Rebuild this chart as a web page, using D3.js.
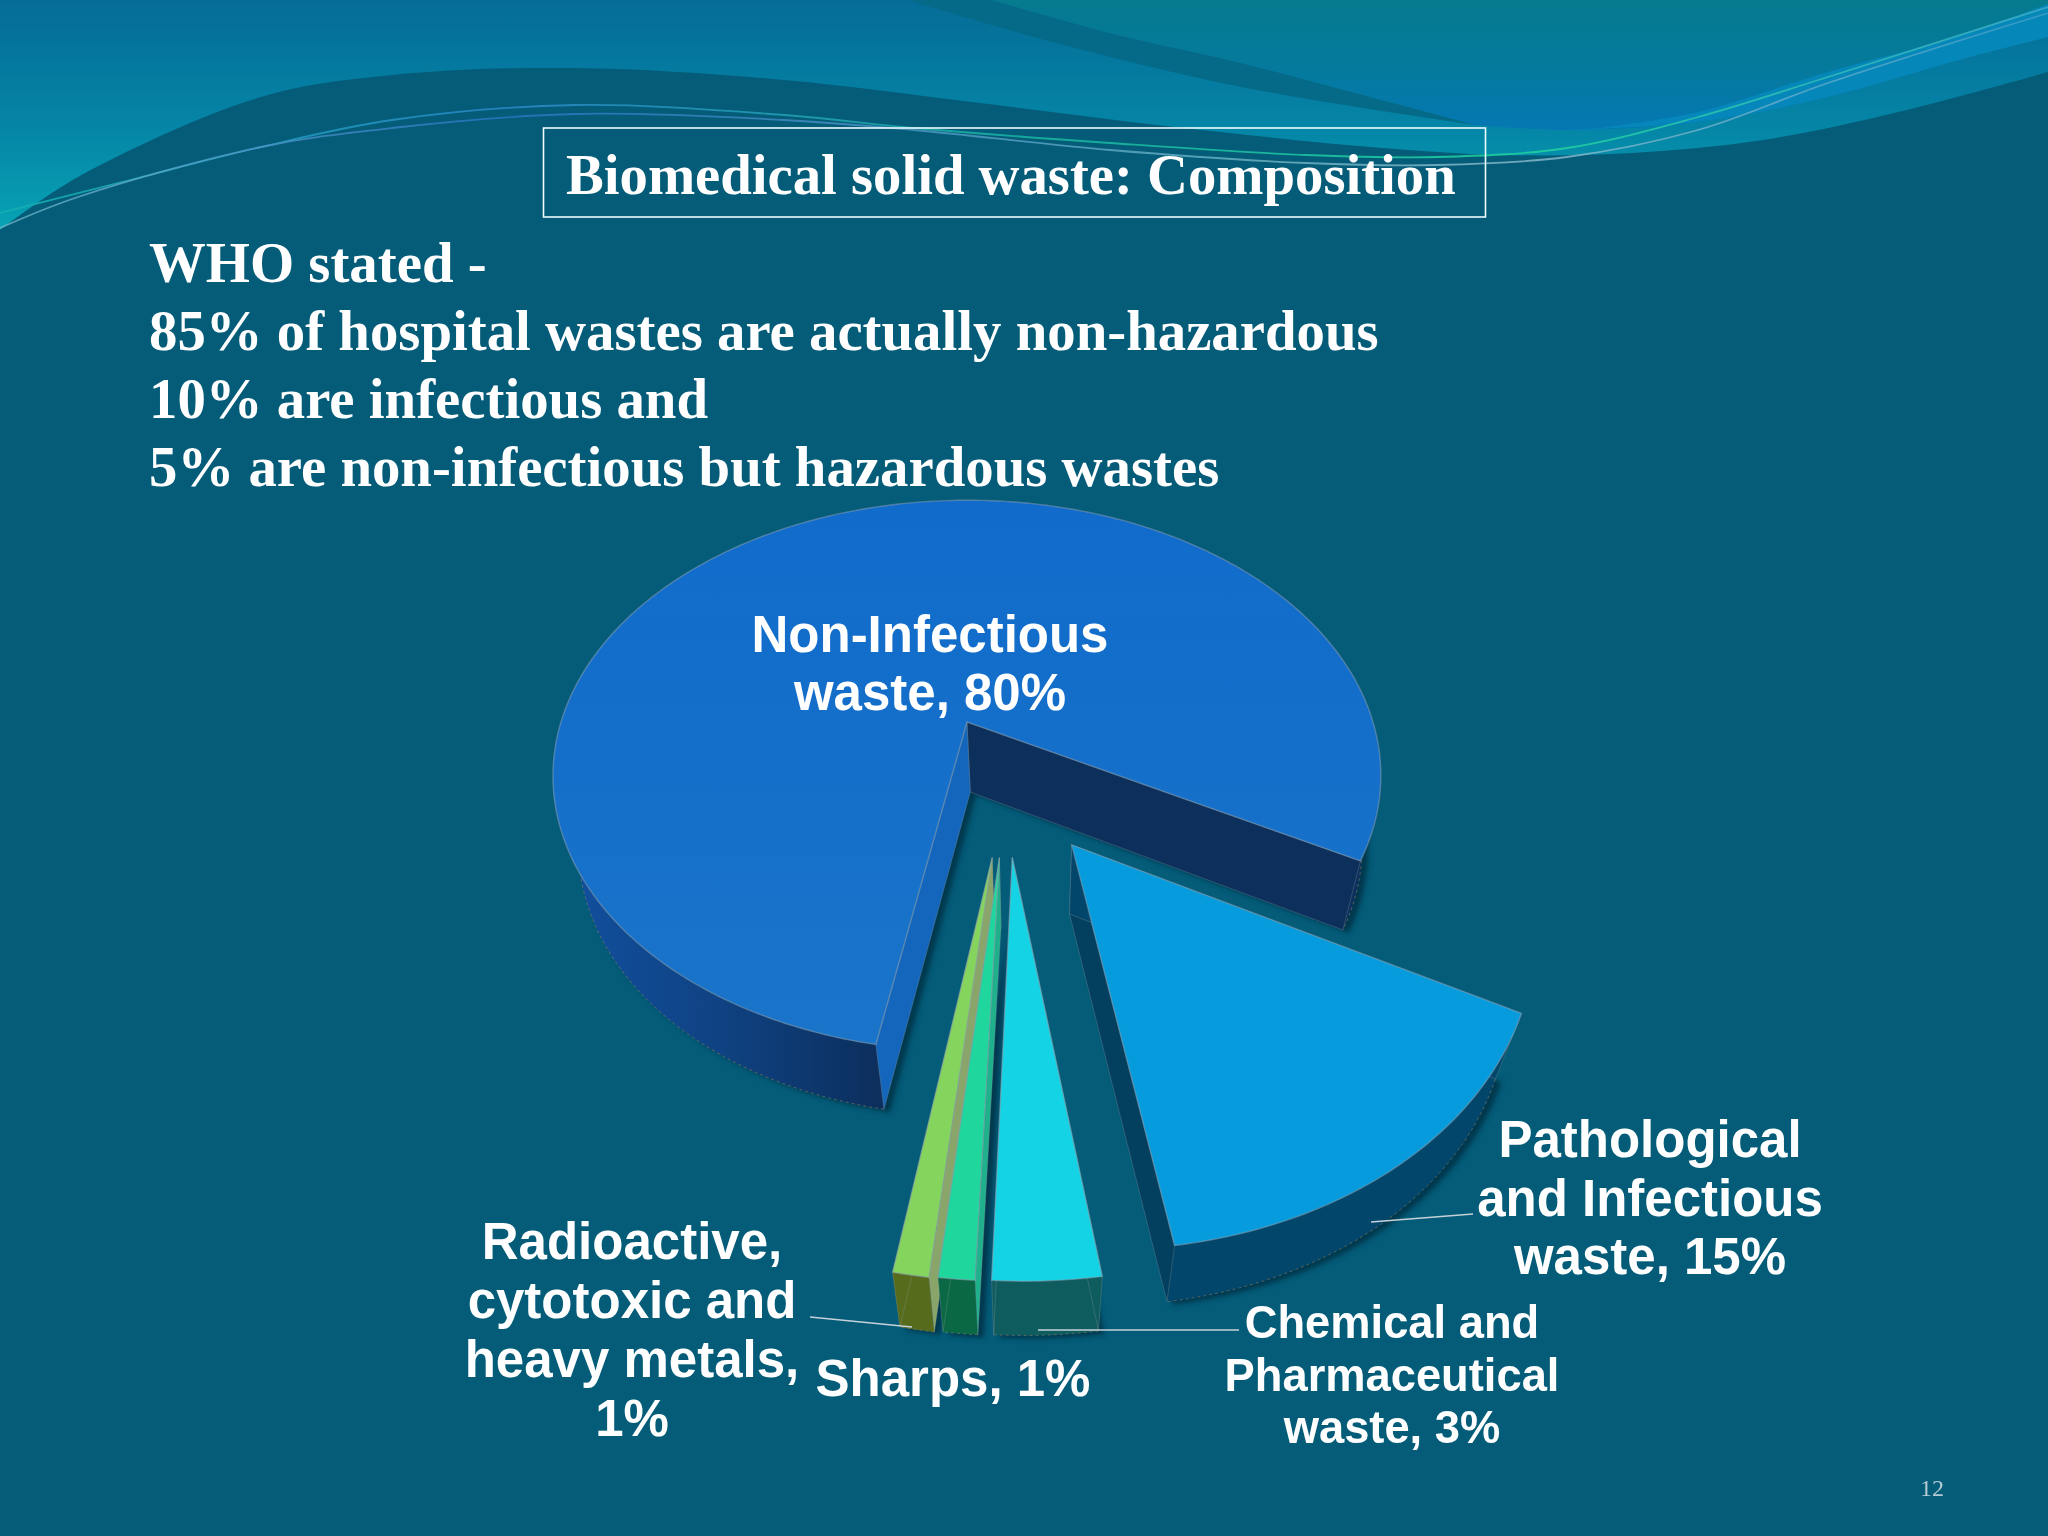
<!DOCTYPE html>
<meta charset="utf-8">
<style>
  body { margin: 0; background: #045c79; }
  svg { display: block; }
</style>
<script src="https://d3js.org/d3.v7.min.js"></script>
<svg id="chart" width="2048" height="1536"></svg>

<script>

// chart values
const categories = ["Non-Infectious waste", "Pathological and Infectious waste",
  "Chemical and Pharmaceutical waste", "Sharps", "Radioactive, cytotoxic and heavy metals"];
const values = [80, 15, 3, 1, 1];
const labelLines = [
  ["Non-Infectious", "waste, 80%"],
  ["Pathological", "and Infectious", "waste, 15%"],
  ["Chemical and", "Pharmaceutical", "waste, 3%"],
  ["Sharps, 1%"],
  ["Radioactive,", "cytotoxic and", "heavy metals,", "1%"]
];
const headline = "Biomedical solid waste: Composition";
const bodyLines = [
  "WHO stated -",
  "85% of hospital wastes are actually non-hazardous",
  "10% are infectious and",
  "5% are non-infectious but hazardous wastes"
];

const svg = d3.select("#chart");
const defs = svg.append("defs");

function gradient(id, x2, y2, stops) {
  const g = defs.append("linearGradient").attr("id", id)
    .attr("x1", 0).attr("y1", 0).attr("x2", x2).attr("y2", y2);
  stops.forEach(s => g.append("stop").attr("offset", s[0]).attr("stop-color", s[1]));
  return g;
}
gradient("bandFill", 0, 1, [[0, "#056c98"], [0.55, "#0585a6"], [1, "#07a3b4"]]);
gradient("swooshFill", 0, 1, [[0, "#067a8e"], [0.55, "#057a9e"], [1, "#0578b4"]]);
gradient("mainTop", 0, 1, [[0, "#106bcb"], [1, "#1a74c9"]]);
gradient("mainWall", 1, 0, [[0, "#114f9e"], [0.5, "#0f4282"], [1, "#0c2f5e"]])
  .attr("gradientUnits", "userSpaceOnUse")
  .attr("x1", 570).attr("y1", 0).attr("x2", 875).attr("y2", 0);
defs.append("filter").attr("id", "soft")
  .attr("x", "-20%").attr("y", "-20%").attr("width", "140%").attr("height", "140%")
  .append("feGaussianBlur").attr("stdDeviation", 2.5);

// --- slide background ---------------------------------------------------
const smooth = d3.line().curve(d3.curveCatmullRom.alpha(0.5));
const bg = svg.append("g");
bg.append("rect").attr("width", 2048).attr("height", 1536).attr("fill", "#045c79");

const bandEdge = [[0, 230], [78, 177], [261, 97], [392, 75], [575, 68], [784, 80], [980, 103],
  [1175, 127], [1371, 147], [1502, 155], [1632, 153], [1763, 140], [1894, 113], [2048, 72]];
bg.append("path")
  .attr("d", smooth(bandEdge) + "L2048,0L0,0Z")
  .attr("fill", "url(#bandFill)");

const sweepEdge = [[908, 0], [1045, 40], [1241, 87], [1476, 125]];
const sweepInner = [[992, 0], [1110, 33], [1241, 63], [1371, 97], [1476, 125]];
const swooshLower = [[1476, 125], [1567, 130], [1698, 122], [1828, 97], [1959, 60], [2048, 37]];

// the darker sweep, then the panel to its right
bg.append("path")
  .attr("d", smooth(sweepEdge) + "L" + smooth(sweepInner.slice().reverse()).slice(1) + "Z")
  .attr("fill", "#056a88");
bg.append("path")
  .attr("d", smooth(sweepInner) + "L" + smooth(swooshLower).slice(1) + "L2048,0Z")
  .attr("fill", "url(#swooshFill)");

const stripTop = [[1600, 128], [1698, 112], [1828, 72], [1959, 36], [2048, 4]];
bg.append("path")
  .attr("d", smooth(swooshLower.slice(1)) + "L" + smooth(stripTop.slice().reverse()).slice(1) + "Z")
  .attr("fill", "#0688bc").attr("opacity", 0.9);

const waveA = [[0, 213], [130, 180], [261, 147], [392, 120], [575, 105], [784, 115], [914, 128],
  [1110, 143], [1306, 155], [1437, 157], [1567, 148], [1698, 117], [1828, 77], [2048, 7]];
const waveB = [[0, 228], [78, 197], [261, 147], [392, 128], [575, 114], [784, 120], [914, 130],
  [1110, 150], [1306, 163], [1437, 165], [1567, 157], [1698, 130], [1828, 83], [2048, 13]];
gradient("waveAStroke", 1, 0, [[0, "#12b0b0"], [0.25, "#2a86c4"], [0.5, "#19b0a0"], [0.75, "#1fd0a0"], [1, "#3aa8c8"]]);
gradient("waveBStroke", 1, 0, [[0, "#6db6c8"], [0.25, "#2a74c4"], [0.6, "#6ab4c4"], [0.75, "#8fbccc"], [1, "#3a9cc8"]]);
bg.append("path").attr("d", smooth(waveA)).attr("fill", "none")
  .attr("stroke", "url(#waveAStroke)").attr("stroke-width", 1.8).attr("opacity", 0.9);
bg.append("path").attr("d", smooth(waveB)).attr("fill", "none")
  .attr("stroke", "url(#waveBStroke)").attr("stroke-width", 1.8).attr("opacity", 0.8);

// --- title and body text --------------------------------------------------
svg.append("rect")
  .attr("x", 543.5).attr("y", 128).attr("width", 942).attr("height", 89)
  .attr("fill", "none")
  .attr("stroke", "#eefcff").attr("stroke-width", 1.6);

svg.append("text")
  .attr("x", 566).attr("y", 194)
  .attr("font-family", "Liberation Serif").attr("font-weight", "bold")
  .attr("font-size", 56.7).attr("fill", "#fff")
  .text(headline);

svg.selectAll("text.body").data(bodyLines).enter().append("text")
  .attr("class", "body")
  .attr("x", 149).attr("y", (d, i) => 282 + i * 68)
  .attr("font-family", "Liberation Serif").attr("font-weight", "bold")
  .attr("font-size", 56.8).attr("fill", "#fff")
  .text(d => d);

// --- 3d pie ---------------------------------------------------------------
const deg = Math.PI / 180;
const pie = d3.pie().sort(null).value(d => d)
  .startAngle(190.4 * deg).endAngle(550.4 * deg);
const slices = pie(values);

// perspective of the pie plane, u to the right and v towards the viewer
const apexX = 969, apexY = 722, radiusX = 406, radiusY = 265, tilt = 0.195;
function project(u, v) {
  const w = 1 - tilt * v;
  return [apexX + radiusX * u / w, apexY + radiusY * v / w];
}
// lower rim of the pie: points shift down and pull in towards the vanishing line
function drop(p) {
  const t = (p[1] - apexY) / 528;
  return [1030 + (p[0] - 1030) * 0.947, p[1] + 70 - 14 * t * t];
}

const explode = [[-0.005, 0], [0.232, 0.425], [0.097, 0.465], [0.068, 0.465], [0.052, 0.465]];
const reach = [1, 1.01, 1.03, 1.03, 1.03];
const looks = [
  { top: "url(#mainTop)", outer: "url(#mainWall)", cutStart: "#1466bd", cutEnd: "#0c2f5c" },
  { top: "#069bdc", outer: "#03466b", cutStart: "#03466b", cutEnd: "#034060" },
  { top: "#14d3e4", outer: "#0e5c5e", cutStart: "#0e5c5e", cutEnd: "#0e5c5e" },
  { top: "#1fd69c", outer: "#0a6845", cutStart: "#1fb08c", cutEnd: "#0a6845" },
  { top: "#84d45e", outer: "#566b1c", cutStart: "#8aa56a", cutEnd: "#566b1c" }
];
// far side first so neighbours overlap the way they do on the slide
const drawOrder = [0, 1, 4, 3, 2];

const polygon = d3.line();

function rimPoints(s, i) {
  const n = Math.max(4, Math.round((s.endAngle - s.startAngle) / deg));
  const angle = d3.scaleLinear().domain([0, n]).range([s.startAngle, s.endAngle]);
  return d3.range(n + 1).map(k => {
    const a = angle(k);
    return project(explode[i][0] + reach[i] * Math.sin(a), explode[i][1] - reach[i] * Math.cos(a));
  });
}

const shadowLayer = svg.append("g").attr("filter", "url(#soft)");
const pieLayer = svg.append("g");

drawOrder.forEach(i => {
  const s = slices[i];
  const apex = project(explode[i][0], explode[i][1]);
  const rim = rimPoints(s, i);
  const first = rim[0], last = rim[rim.length - 1];
  const lowRim = rim.map(drop);

  shadowLayer.append("path")
    .attr("d", polygon([drop(apex), ...lowRim]) + "Z")
    .attr("transform", "translate(6,3)")
    .attr("fill", "#01374e");

  const g = pieLayer.append("g").attr("class", "slice").datum(categories[i]);
  g.append("path")
    .attr("d", polygon([...rim, ...lowRim.slice().reverse()]) + "Z")
    .attr("fill", looks[i].outer);
  g.append("path")
    .attr("d", polygon([apex, last, drop(last), drop(apex)]) + "Z")
    .attr("fill", looks[i].cutEnd)
    .attr("stroke", "#8f9aa0").attr("stroke-opacity", 0.3);
  g.append("path")
    .attr("d", polygon([apex, first, drop(first), drop(apex)]) + "Z")
    .attr("fill", looks[i].cutStart)
    .attr("stroke", "#8f9aa0").attr("stroke-opacity", 0.3);
  // the slide has a faint dashed seam along the bottom of the walls
  g.append("path")
    .attr("d", polygon(lowRim))
    .attr("fill", "none").attr("stroke", "#8f8468").attr("stroke-opacity", 0.55)
    .attr("stroke-dasharray", "3 3");
  g.append("path")
    .attr("d", polygon([apex, ...rim]) + "Z")
    .attr("fill", looks[i].top)
    .attr("stroke", "#8fa4b4").attr("stroke-opacity", 0.5).attr("stroke-width", 1.4);
});

// --- labels ---------------------------------------------------------------
const labelSpots = [
  { x: 930, y: 652, gap: 58, size: 51 },
  { x: 1650, y: 1157, gap: 58.5, size: 51 },
  { x: 1392, y: 1338, gap: 52.5, size: 45.3 },
  { x: 953, y: 1396, gap: 0, size: 51 },
  { x: 632, y: 1259, gap: 59, size: 51 }
];
labelLines.forEach((lines, i) => {
  const spot = labelSpots[i];
  svg.selectAll("text.lab" + i).data(lines).enter().append("text")
    .attr("class", "lab" + i)
    .attr("x", spot.x).attr("y", (d, k) => spot.y + k * spot.gap)
    .attr("text-anchor", "middle")
    .attr("font-family", "Liberation Sans").attr("font-weight", "bold")
    .attr("font-size", spot.size).attr("fill", "#fff")
    .text(d => d);
});

// leader lines
const leaders = [
  [[1473, 1214], [1371, 1222]],
  [[1239, 1330], [1038, 1330]],
  [[810, 1317], [912, 1327]]
];
svg.selectAll("path.leader").data(leaders).enter().append("path")
  .attr("class", "leader")
  .attr("d", d => polygon(d))
  .attr("fill", "none").attr("stroke", "#c4d2d8").attr("stroke-width", 1.6);

// page number
svg.append("text")
  .attr("x", 1932).attr("y", 1496).attr("text-anchor", "middle")
  .attr("font-family", "Liberation Serif").attr("font-size", 24)
  .attr("fill", "#b4cad2")
  .text("12");

</script>
